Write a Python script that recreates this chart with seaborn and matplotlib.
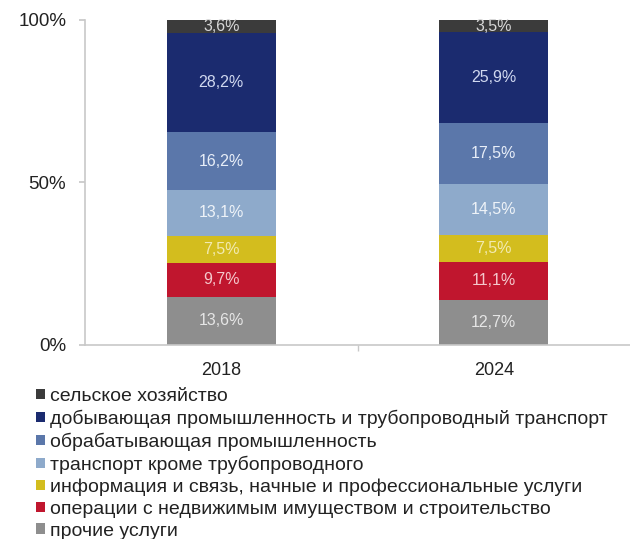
"""Structure of GDP by sector, 2018 vs 2024 (100% stacked bars)."""

import numpy as np
import pandas as pd
import matplotlib
matplotlib.use("Agg")
import matplotlib.pyplot as plt
from matplotlib.patches import Patch
import seaborn as sns

years = ["2018", "2024"]
# from bottom to top
sectors = [
    "прочие услуги",
    "операции с недвижимым имуществом и строительство",
    "информация и связь, начные и профессиональные услуги",
    "транспорт кроме трубопроводного",
    "обрабатывающая промышленность",
    "добывающая промышленность и трубопроводный транспорт",
    "сельское хозяйство",
]
values_2018 = [13.6, 9.7, 7.5, 13.1, 16.2, 28.2, 3.6]
values_2024 = [12.7, 11.1, 7.5, 14.5, 17.5, 25.9, 3.5]
colors = ["#8e8e8e", "#c0162e", "#d3bd1e", "#8eaacb", "#5b77aa", "#1b2b6f", "#3b3b3b"]
label_colors = ["#e6e6e6", "#f4c8cc", "#f2eab0", "#eef3f8", "#e8eef8", "#d0d8f0", "#d8d8d8"]

sns.set_theme(style="white")
plt.rcParams["font.family"] = ["Liberation Sans", "DejaVu Sans"]

vals = np.array([values_2018, values_2024])  # shape (year, sector)
shares = vals / vals.sum(axis=1, keepdims=True) * 100
cum = np.cumsum(shares, axis=1)

fig = plt.figure(figsize=(6.3, 5.39), dpi=100)
ax = fig.add_axes([0.135, 0.360, 0.865, 0.603])

# draw cumulative bars from the top layer down so lower layers overlap
for i in range(len(sectors) - 1, -1, -1):
    df = pd.DataFrame({"year": years, "cum": cum[:, i]})
    sns.barplot(data=df, x="year", y="cum", color=colors[i], width=0.4,
                saturation=1, ax=ax, edgecolor="none")

for j in range(len(years)):
    for i in range(len(sectors)):
        lower = cum[j, i - 1] if i > 0 else 0
        mid = (lower + cum[j, i]) / 2
        ax.text(j, mid, f"{vals[j, i]:.1f}%".replace(".", ","), ha="center",
                va="center", fontsize=11.5, color=label_colors[i])

ax.set_xlim(-0.5, 1.5)
ax.set_ylim(0, 100)
ax.set_yticks([0, 50, 100])
ax.set_yticklabels(["0%", "50%", "100%"])
ax.set_xlabel("")
ax.set_ylabel("")
ax.set_xticks([0.5], minor=True)
for side in ["top", "right"]:
    ax.spines[side].set_visible(False)
for side in ["left", "bottom"]:
    ax.spines[side].set_color("#c8c8c8")
    ax.spines[side].set_linewidth(1.2)
ax.tick_params(axis="y", which="major", left=True, length=4.5, color="#c8c8c8",
               labelsize=13.5, labelcolor="#222222", pad=9)
ax.tick_params(axis="x", which="major", bottom=False, labelsize=13,
               labelcolor="#222222", pad=6)
ax.tick_params(axis="x", which="minor", bottom=True, length=4, color="#c8c8c8")

handles = [Patch(facecolor=colors[i], edgecolor="none", label=sectors[i])
           for i in range(len(sectors) - 1, -1, -1)]
fig.legend(handles=handles, loc="upper left", bbox_to_anchor=(0.057, 0.280),
           frameon=False, fontsize=14, handlelength=0.45, handleheight=0.45,
           handletextpad=0.3, labelspacing=0.24, borderpad=0, borderaxespad=0,
           labelcolor="#222222")

fig.savefig("out.png", dpi=100)
plt.close(fig)
